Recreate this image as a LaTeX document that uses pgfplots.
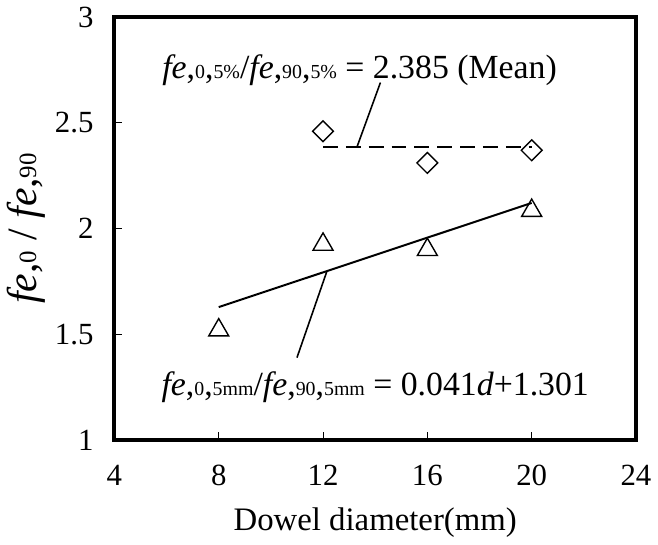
\documentclass[border=0pt]{standalone}
\usepackage{fontspec}
\setmainfont{Liberation Serif}
\usepackage{pgfplots}
\pgfplotsset{compat=1.18}

% small text used for the subscripts after "fe,"
\newcommand{\fs}[1]{{\fontsize{10}{12}\selectfont #1}}
\newcommand{\fsb}[1]{{\fontsize{12.5}{14}\selectfont #1}}

\begin{document}
\begin{tikzpicture}
\begin{axis}[
    scale only axis,
    width=262.5pt, height=213pt,
    xmin=4, xmax=24, ymin=1, ymax=3,
    xtick={4,8,12,16,20,24},
    ytick={1,1.5,2,2.5,3},
    tick align=inside,
    xtick pos=lower, ytick pos=left,
    major tick length=4pt,
    every tick/.style={black, line width=0.4pt},
    axis line style={line width=2pt},
    /pgf/number format/assume math mode=true,
    tick label style={font=\fontsize{15.5}{18}\selectfont},
    xticklabel style={yshift=-9pt},
    yticklabel style={xshift=-7pt},
    xlabel={Dowel diameter(mm)},
    xlabel style={font=\fontsize{16.5}{19}\selectfont, at={(axis description cs:0.5,-0.195)}, anchor=center},
    ylabel={\textit{fe},\fsb{0} / \textit{fe},\fsb{90}},
    ylabel style={font=\fontsize{21}{24}\selectfont, at={(axis description cs:-0.17,0.5)}, anchor=center, rotate=0},
    clip=false,
]
% linear fit and mean line
\addplot[black, line width=1pt] coordinates {(8,1.629) (20,2.121)};
\addplot[black, line width=0.75pt, dash pattern=on 7.5pt off 4pt] coordinates {(12,2.385) (20,2.385)};
% leader lines to the labels
\addplot[black, line width=0.8pt] coordinates {(13.3,2.385) (14.2,2.69)};
\addplot[black, line width=0.8pt] coordinates {(12.15,1.799) (11.0,1.39)};
% data
\addplot[only marks, mark=triangle, mark size=5.8pt, mark options={black, line width=0.7pt}]
    coordinates {(8,1.52) (12,1.925) (16,1.90) (20,2.085)};
\addplot[only marks, mark=square, mark size=3.7pt, mark options={black, line width=0.7pt, rotate=45}]
    coordinates {(12,2.46) (16,2.31) (20,2.37)};
\node[font=\fontsize{17}{19}\selectfont] at (axis cs:13.4,2.75)
    {\textit{fe},\fs{0},\fs{5\%}/\textit{fe},\fs{90},\fs{5\%} = 2.385 (Mean)};
\node[font=\fontsize{17}{19}\selectfont] at (axis cs:14.0,1.25)
    {\textit{fe},\fs{0},\fs{5mm}/\textit{fe},\fs{90},\fs{5mm} = 0.041\textit{d}+1.301};
\end{axis}
\end{tikzpicture}
\end{document}
